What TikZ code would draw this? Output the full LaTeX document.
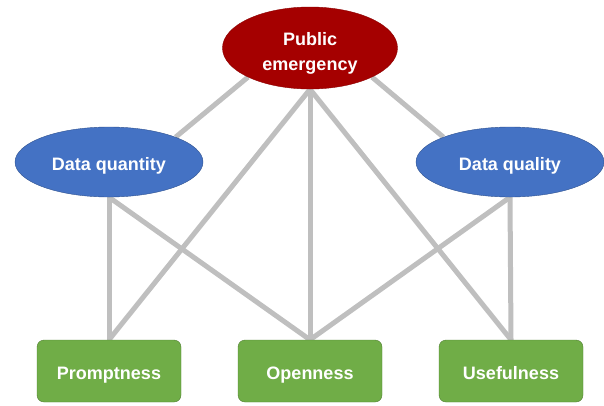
\documentclass[tikz,border=0pt]{standalone}
\usepackage{fontspec}
\setmainfont{Liberation Sans}
\usepackage{tikz}
\usetikzlibrary{shapes.geometric, backgrounds}

\definecolor{emergred}{HTML}{A50000}
\definecolor{emergedge}{HTML}{8C0000}
\definecolor{factblue}{HTML}{4472C4}
\definecolor{factedge}{HTML}{2F528F}
\definecolor{outgreen}{HTML}{70AD47}
\definecolor{outedge}{HTML}{507E32}
\definecolor{linkgrey}{HTML}{BFBFBF}

\begin{document}
\begin{tikzpicture}[x=1pt, y=-1pt,
    link/.style={draw=linkgrey, line width=5pt},
    label/.style={text=white, font=\fontsize{18}{25}\selectfont\bfseries, align=center, inner sep=0pt},
    oneline/.style={text height=18pt, text depth=1pt},
    cause/.style={ellipse, label, fill=emergred, draw=emergedge, minimum width=175pt, minimum height=82pt},
    factor/.style={ellipse, label, oneline, fill=factblue, draw=factedge, minimum width=188pt, minimum height=70pt},
    outcome/.style={rectangle, label, oneline, rounded corners=7pt, fill=outgreen, draw=outedge, minimum width=144pt, minimum height=62pt}]
    \useasboundingbox (0,0) rectangle (604,405);

    % Top node
    \node[cause] (emerg) at (310,48)
      {\raisebox{-9pt}[26pt][26pt]{\begin{tabular}{@{}c@{}}Public\\emergency\end{tabular}}};

    % Middle factors
    \node[factor] (quant) at (109,162) {Data quantity};
    \node[factor] (qual) at (510,162) {Data quality};

    % Bottom outcomes
    \foreach \n/\x/\t in {prompt/109/Promptness, open/310/Openness, useful/511/Usefulness} {
      \node[outcome] (\n) at (\x,371) {\t};
    }

    % Connectors behind the nodes
    \begin{scope}[on background layer]
      \draw[link] (emerg.south west) -- (quant.north east);
      \draw[link] (emerg.south east) -- (qual.north west);
      \foreach \n in {prompt, open, useful} {
        \draw[link] (emerg.south) -- (\n.north);
      }
      \draw[link] (quant.south) -- (prompt.north);
      \draw[link] (quant.south) -- (open.north);
      \draw[link] (qual.south) -- (useful.north);
      \draw[link] (qual.south) -- (open.north);
    \end{scope}
\end{tikzpicture}
\end{document}
